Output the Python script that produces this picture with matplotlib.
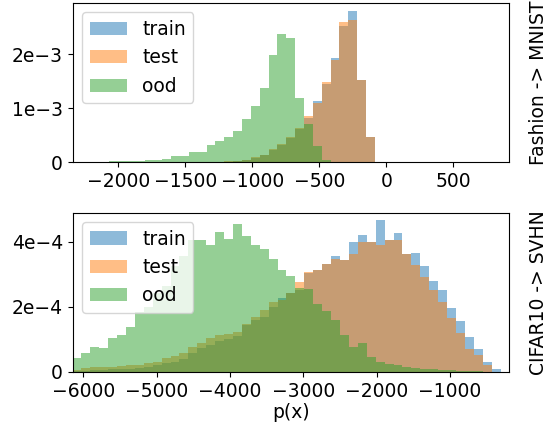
import numpy as np
import matplotlib
matplotlib.use("Agg")
import matplotlib.pyplot as plt

# Fashion -> MNIST histogram (density, in units of 1e-3), 35 shared bins
top_edges = np.linspace(-2333, -19, 36)
top_train = np.array([0, 0, 0, 0, 0, 0, 0, 0, 0, 0, 0, 0, 0, 0,
                      0.003, 0.006, 0.010, 0.015, 0.025, 0.043, 0.086, 0.135, 0.234, 0.326,
                      0.455, 0.615, 0.830, 1.138, 1.445, 1.925, 2.534, 2.811, 1.519, 0.474, 0.006]) * 1e-3
top_test = np.array([0, 0, 0, 0, 0, 0, 0, 0, 0, 0, 0, 0, 0, 0,
                     0.003, 0.006, 0.010, 0.018, 0.031, 0.049, 0.092, 0.141, 0.240, 0.338,
                     0.461, 0.627, 0.849, 1.107, 1.482, 1.888, 2.595, 2.645, 1.519, 0.474, 0.006]) * 1e-3
top_ood = np.array([0.006, 0.006, 0.012, 0.012, 0.018, 0.018, 0.025, 0.031, 0.037, 0.049,
                    0.068, 0.111, 0.111, 0.185, 0.185, 0.320, 0.387, 0.474, 0.584, 0.800,
                    1.046, 1.371, 1.980, 2.386, 2.306, 1.199, 0.707, 0.308, 0.043, 0,
                    0, 0, 0, 0, 0]) * 1e-3

# CIFAR10 -> SVHN histogram (density, in units of 1e-4), 48 shared bins
bot_edges = np.linspace(-6150, -310, 49)
bot_train = np.array([0.031, 0.041, 0.061, 0.072, 0.082, 0.092, 0.102, 0.123, 0.164, 0.215,
                      0.266, 0.317, 0.389, 0.573, 0.726, 0.829, 0.962, 1.003, 1.105, 1.442,
                      1.596, 1.698, 2.005, 2.261, 2.414, 2.517, 3.028, 3.130, 3.315, 3.570,
                      3.437, 4.000, 4.225, 4.000, 4.665, 4.072, 4.286, 3.642, 3.673, 3.253,
                      2.803, 2.517, 1.954, 1.565, 1.084, 0.706, 0.317, 0.102]) * 1e-4
bot_test = np.array([0.061, 0.113, 0.143, 0.153, 0.164, 0.184, 0.205, 0.225, 0.286, 0.317,
                     0.419, 0.491, 0.573, 0.777, 0.900, 1.033, 1.136, 1.166, 1.238, 1.473,
                     1.698, 1.903, 2.159, 2.210, 2.435, 2.772, 3.079, 3.130, 3.315, 3.488,
                     3.437, 3.621, 4.000, 4.000, 3.898, 4.072, 4.051, 3.642, 3.284, 2.905,
                     2.517, 2.159, 1.647, 1.207, 0.696, 0.512, 0.215, 0.0]) * 1e-4
bot_ood = np.array([0.440, 0.593, 0.767, 0.747, 1.054, 1.136, 1.371, 1.852, 2.005, 2.414,
                    2.639, 3.253, 3.570, 4.072, 4.051, 3.898, 4.307, 4.102, 4.563, 4.184,
                    3.898, 3.795, 3.488, 3.130, 2.957, 2.568, 2.537, 2.087, 1.882, 1.596,
                    1.136, 0.777, 0.880, 0.471, 0.317, 0.246, 0.215, 0.164, 0.133, 0.102,
                    0.082, 0.061, 0.051, 0.041, 0.031, 0.020, 0.010, 0.0]) * 1e-4

FS = 13.5
plt.rcParams["font.size"] = FS

fig, (ax1, ax2) = plt.subplots(2, 1, figsize=(5.54, 4.23), dpi=100)
fig.subplots_adjust(left=0.1312, right=0.9193, top=0.9929, bottom=0.1206, hspace=0.316)

def draw(ax, edges, train, test, ood):
    ax.hist(edges[:-1], bins=edges, weights=train, alpha=0.5, label="train")
    ax.hist(edges[:-1], bins=edges, weights=test, alpha=0.5, label="test")
    ax.hist(edges[:-1], bins=edges, weights=ood, alpha=0.5, label="ood")
    ax.legend(loc="upper left", fontsize=FS)

draw(ax1, top_edges, top_train, top_test, top_ood)
ax1.set_xlim(-2340, 918)
ax1.set_xticks([-2000, -1500, -1000, -500, 0, 500])
ax1.set_yticks([0, 1e-3, 2e-3])
ax1.set_yticklabels(["0", "1e\u22123", "2e\u22123"])
ax1.text(1.068, 0.5, "Fashion -> MNIST", rotation=90, ha="center", va="center",
         transform=ax1.transAxes)

draw(ax2, bot_edges, bot_train, bot_test, bot_ood)
ax2.set_xlim(-6146, -191)
ax2.set_xticks([-6000, -5000, -4000, -3000, -2000, -1000])
ax2.set_yticks([0, 2e-4, 4e-4])
ax2.set_yticklabels(["0", "2e\u22124", "4e\u22124"])
ax2.set_xlabel("p(x)", labelpad=2)
ax2.text(1.068, 0.5, "CIFAR10 -> SVHN", rotation=90, ha="center", va="center",
         transform=ax2.transAxes)

plt.savefig("out.png", dpi=100)
